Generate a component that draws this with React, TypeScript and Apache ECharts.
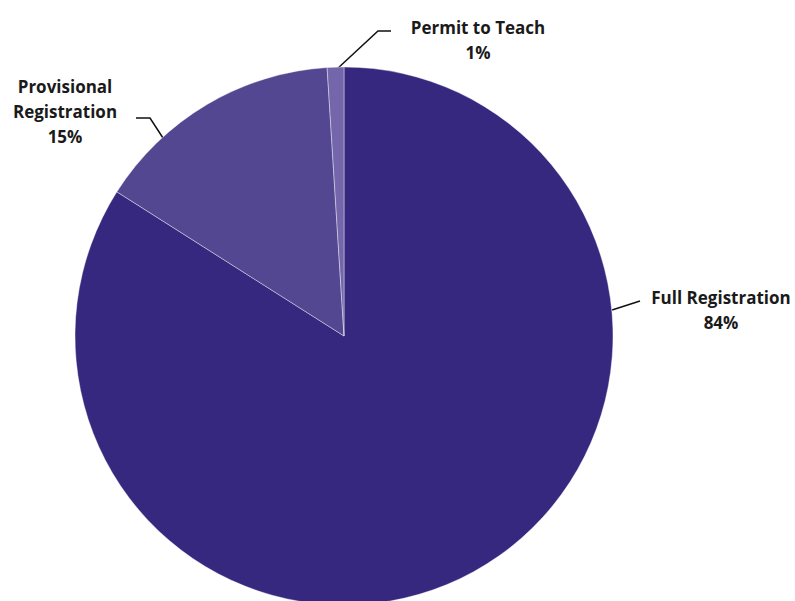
import React, { useEffect, useRef } from "react";
import * as echarts from "echarts";

const categories = ["Full Registration", "Provisional Registration", "Permit to Teach"];
const labelNames = ["Full Registration", "Provisional\nRegistration", "Permit to Teach"];
const values = [84, 15, 1];
const colors = ["#36277F", "#544792", "#7466AA"];

// label layout (positions of annotation text and connector lines)
const labelLayouts = [
  { x: 721, y: 310, line: [[612, 310], [640, 301]] },
  { x: 65, y: 111, line: [[163, 138], [150, 118], [136, 118]] },
  { x: 478, y: 40, line: [[337, 69], [378, 31], [391, 31]] },
];

export default function App() {
  const ref = useRef<HTMLDivElement>(null);
  useEffect(() => {
    document.body.style.margin = "0";
    const chart = echarts.init(ref.current!, undefined, { renderer: "svg" });
    chart.setOption({
      animation: false,
      backgroundColor: "#ffffff",
      series: [
        {
          type: "pie",
          center: [344, 336],
          radius: 269,
          startAngle: 90,
          clockwise: true,
          silent: true,
          data: categories.map((c, i) => ({
            name: c,
            value: values[i],
            itemStyle: { color: colors[i] },
          })),
          itemStyle: { borderColor: "#ffffff", borderWidth: 0.4 },
          label: {
            show: true,
            position: "outside",
            formatter: (p: any) => `${labelNames[p.dataIndex]}\n${p.value}%`,
            fontFamily: "Open Sans",
            fontWeight: "bold",
            fontSize: 17,
            lineHeight: 25,
            color: "#1a1a1a",
          },
          labelLine: {
            show: true,
            length: 15,
            length2: 15,
            lineStyle: { color: "#111111", width: 1.5 },
          },
          labelLayout: (params: any) => {
            const l = labelLayouts[params.dataIndex];
            return {
              x: l.x,
              y: l.y,
              align: "center",
              verticalAlign: "middle",
              labelLinePoints: l.line,
            };
          },
          emphasis: { disabled: true },
        },
      ],
    });
    return () => chart.dispose();
  }, []);
  return <div ref={ref} style={{ width: 795, height: 601 }} />;
}
